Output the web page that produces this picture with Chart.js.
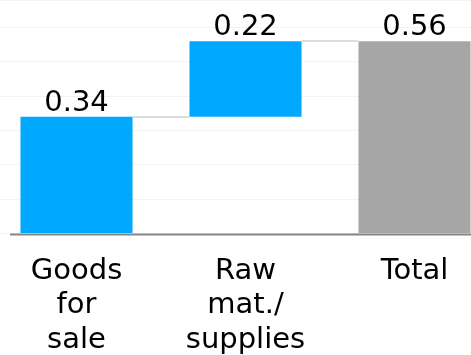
<!DOCTYPE html>
<html>
<head>
<meta charset="utf-8">
<script src="https://cdn.jsdelivr.net/npm/chart.js@4"></script>
<style>
  html, body { margin: 0; padding: 0; background: #fff; overflow: hidden; }
  body { width: 471px; height: 355px; position: relative; }
  #wrap { position: absolute; left: -8px; top: 0; width: 507px; height: 378px; }
</style>
</head>
<body>
<div id="wrap"><canvas id="chart"></canvas></div>
<script>
const CATEGORIES = [['Goods', 'for', 'sale'], ['Raw', 'mat./', 'supplies'], ['Total']]
const STEPS = [0.34, 0.22]
const TOTAL = 0.56
const COLORS = ['#00a8ff', '#00a8ff', '#a6a6a6']

// floating ranges: each step starts where the previous one ended, total from zero
const ranges = []
let running = 0
STEPS.forEach((v) => {
  ranges.push([running, running + v])
  running += v
})
ranges.push([0, TOTAL])
const labels = STEPS.concat([TOTAL])

const FONT = 'DejaVu Sans'

const waterfallPlugin = {
  id: 'waterfall',
  afterDatasetsDraw: (chart) => {
    const { ctx, chartArea } = chart
    const meta = chart.getDatasetMeta(0)
    const y = chart.scales.y

    ctx.save()
    // connectors between neighbouring bars
    ctx.strokeStyle = '#dddddd'
    ctx.lineWidth = 2
    for (let i = 0; i < meta.data.length - 1; i++) {
      const a = meta.data[i]
      const b = meta.data[i + 1]
      const ly = Math.round(y.getPixelForValue(ranges[i][1]))
      ctx.beginPath()
      ctx.moveTo(a.x + a.width / 2, ly)
      ctx.lineTo(b.x - b.width / 2, ly)
      ctx.stroke()
    }

    // axis line
    const y0 = Math.round(y.getPixelForValue(0)) + 0.5
    ctx.strokeStyle = '#858585'
    ctx.lineWidth = 2
    ctx.beginPath()
    ctx.moveTo(chartArea.left + 18, y0)
    ctx.lineTo(chartArea.right, y0)
    ctx.stroke()

    // value labels
    ctx.fillStyle = '#000'
    ctx.font = '29px "' + FONT + '"'
    ctx.textAlign = 'center'
    ctx.textBaseline = 'alphabetic'
    meta.data.forEach((bar, i) => {
      const top = y.getPixelForValue(ranges[i][1])
      ctx.fillText(labels[i].toFixed(2), bar.x, top - 6)
    })
    ctx.restore()
  }
}

const chart = new Chart(document.getElementById('chart'), {
  type: 'bar',
  data: {
    labels: CATEGORIES,
    datasets: [{
      data: ranges,
      backgroundColor: COLORS,
      borderWidth: 0,
      barPercentage: 0.663,
      categoryPercentage: 1
    }]
  },
  options: {
    responsive: true,
    maintainAspectRatio: false,
    animation: false,
    layout: { padding: 0 },
    plugins: {
      legend: { display: false },
      tooltip: { enabled: false }
    },
    scales: {
      x: {
        grid: { display: false, drawTicks: false },
        border: { display: false },
        ticks: {
          color: '#000',
          padding: 20,
          font: { family: FONT, size: 29, lineHeight: 1.2 },
          maxRotation: 0,
          autoSkip: false
        }
      },
      y: {
        display: true,
        min: 0,
        max: 0.68,
        ticks: { display: false, stepSize: 0.1 },
        border: { display: false },
        grid: { color: '#f3f3f3', drawTicks: false }
      }
    }
  },
  plugins: [waterfallPlugin]
})
</script>
</body>
</html>
